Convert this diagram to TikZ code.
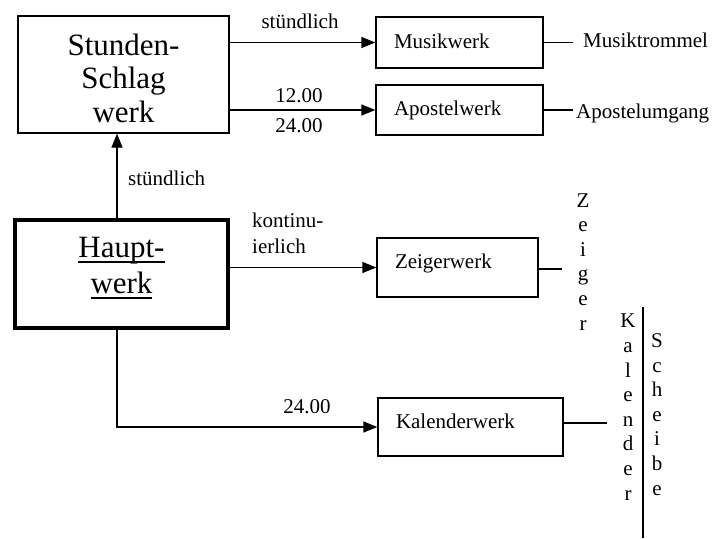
\documentclass[tikz,border=0pt]{standalone}
\usepackage{fontspec}
\setmainfont{Liberation Serif}
\usetikzlibrary{arrows.meta}

% underline drawn at a fixed depth below the baseline
\newlength\ulwd
\newcommand\ulword[1]{\settowidth\ulwd{#1}\rlap{\rule[-5.5pt]{\ulwd}{1.3pt}}#1}

\begin{document}
\begin{tikzpicture}[x=1pt,y=-1pt,
  lbl/.style={font=\fontsize{21}{25}\selectfont, inner sep=0pt},
  bigbox/.style={draw, line width=1.3pt, font=\fontsize{31}{33.5}\selectfont, align=center, inner sep=0pt},
  workbox/.style={draw, line width=1.3pt, font=\fontsize{21}{25}\selectfont, align=left, inner xsep=18pt, inner ysep=0pt},
  arr/.style={line width=1.3pt, -{Triangle[length=14pt,width=11pt]}},
  plain/.style={line width=1.3pt},
  letters/.style={font=\fontsize{21}{24.6}\selectfont, align=center, inner sep=0pt}]
\useasboundingbox (0,0) rectangle (714,538);

% main blocks (the base anchor sits on the last text line)
\node[bigbox, minimum width=211pt, text height=106pt, text depth=11pt,
  anchor=base] (stunden) at (123.5,122)
  {Stunden-\\Schlag\\werk};
\node[bigbox, line width=4pt, minimum width=213pt, text height=73pt, text depth=35pt,
  font=\fontsize{31}{36}\selectfont, anchor=base] (haupt) at (121.5,293)
  {\ulword{Haupt-}\\\ulword{werk}};

% driven mechanisms
\node[workbox, text width=131pt, text height=31pt, text depth=20pt] (musik) at (459.5,42.5) {Musikwerk};
\node[workbox, text width=131pt, text height=30pt, text depth=20pt] (apostel) at (459.5,110) {Apostelwerk};
\node[workbox, text width=125pt, text height=30pt, text depth=29pt] (zeiger) at (457.5,267.5) {Zeigerwerk};
\node[workbox, text width=149pt, text height=30pt, text depth=28pt] (kalender) at (470.5,427) {Kalenderwerk};

% outputs
\node[lbl, anchor=base west] (trommel) at (583,47) {Musiktrommel};
\node[lbl, anchor=base west] (umgang) at (576,118) {Apostelumgang};
\node[letters, anchor=base] (zeigerl) at (583,330) {Z\\e\\i\\g\\e\\r};
\node[letters, anchor=base] (kalenderl) at (628,500) {K\\a\\l\\e\\n\\d\\e\\r};
\node[letters, anchor=base] (scheibel) at (657,495) {S\\c\\h\\e\\i\\b\\e};

% connector labels
\node[lbl, anchor=base] (l1) at (300,28) {stündlich};
\node[lbl, anchor=base] (l2) at (299,102) {12.00};
\node[lbl, anchor=base] (l3) at (299,132) {24.00};
\node[lbl, anchor=base west] (l4) at (128,185) {stündlich};
\node[lbl, anchor=base west, align=left, font=\fontsize{21}{25.5}\selectfont] (l5) at (252,253) {kontinu-\\ierlich};
\node[lbl, anchor=base] (l6) at (307,413) {24.00};

% connectors
\coordinate (colx) at (117,0);
\draw[arr] (stunden.east |- musik.west) -- (musik.west);
\draw[arr] (stunden.east |- apostel.west) -- (apostel.west);
\draw[arr] (haupt.north -| colx) -- (stunden.south -| colx);
\draw[arr] (haupt.east |- zeiger.west) -- (zeiger.west);
\draw[arr] (haupt.south -| colx) |- (kalender.west);

\draw[plain] (musik.east) -- ([xshift=-10pt]musik.east -| trommel.west);
\draw[plain] (apostel.east) -- ([xshift=-3pt]apostel.east -| umgang.west);
\coordinate (zend) at (562,269);
\draw[plain] (zeiger.east |- zend) -- (zend);
\coordinate (kend) at (607,423);
\draw[plain] (kalender.east |- kend) -- (kend);

% disc divider
\coordinate (dtop) at (643,307);
\coordinate (dbot) at (643,538);
\draw[plain] (dtop) -- (dbot);
\end{tikzpicture}
\end{document}
